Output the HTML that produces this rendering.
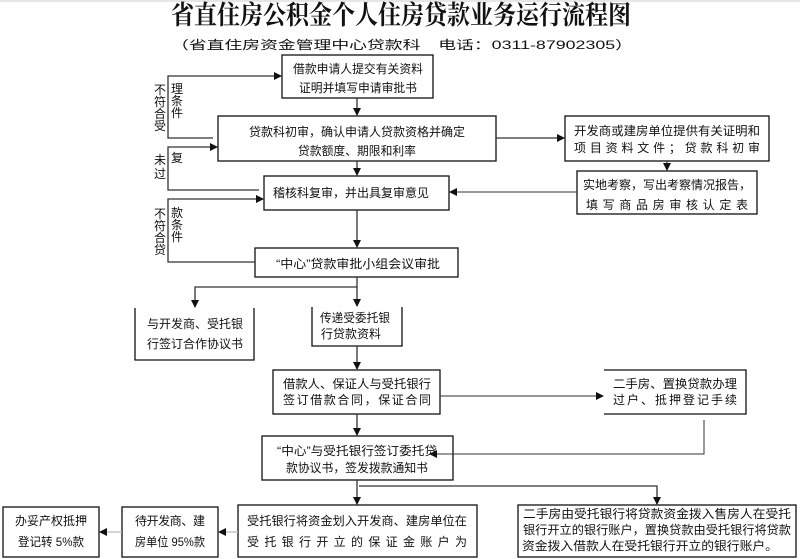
<!DOCTYPE html>
<html><head><meta charset="utf-8"><style>
html,body{margin:0;padding:0;background:#fff;}
svg{display:block;}
text{font-family:"Liberation Sans","Noto Sans CJK SC",sans-serif;fill:#111;font-size:12px;}
.t{font-family:"Liberation Serif","Noto Serif CJK SC",serif;font-weight:bold;font-size:26px;}
</style></head><body>
<svg width="800" height="559" viewBox="0 0 800 559" xmlns="http://www.w3.org/2000/svg">
<defs>
<marker id="a" markerWidth="8" markerHeight="8" refX="7" refY="4" orient="auto" markerUnits="userSpaceOnUse"><path d="M0,0 L8,4 L0,8 z" fill="#111"/></marker>
</defs>
<rect x="0" y="0" width="800" height="559" fill="#fff"/>
<line x1="0" y1="1" x2="800" y2="1" stroke="#ccc"/>
<text class="t" x="401" y="24" text-anchor="middle" textLength="460" lengthAdjust="spacingAndGlyphs">省直住房公积金个人住房贷款业务运行流程图</text>
<text x="402" y="49" text-anchor="middle" font-size="16" textLength="462" lengthAdjust="spacingAndGlyphs" fill="#333">（省直住房资金管理中心贷款科　电话：0311-87902305）</text>

<g fill="none" stroke="#111" stroke-width="1.3">
<rect x="282" y="55" width="151" height="43"/>
<rect x="218" y="116" width="278" height="45"/>
<rect x="264" y="176" width="185" height="34"/>
<rect x="255" y="248" width="203" height="29"/>
<rect x="565" y="116" width="204" height="45"/>
<rect x="577" y="171" width="180" height="43"/>
<path d="M135,308 V360 H254 V308"/>
<path d="M312,307 V346 H402 V307"/>
<rect x="273" y="370" width="167" height="44"/>
<path d="M604,370 H746 V414 H604"/>
<rect x="262" y="436" width="191" height="44"/>
<rect x="238" y="505" width="239" height="52"/>
<rect x="518" y="505" width="278" height="52"/>
<rect x="122" y="507" width="96" height="50"/>
<rect x="3" y="507" width="96" height="50"/>
</g>

<g fill="none" stroke="#333" stroke-width="1.3">
<line x1="357" y1="98" x2="357" y2="115" marker-end="url(#a)"/>
<line x1="357" y1="161" x2="357" y2="175" marker-end="url(#a)"/>
<line x1="357" y1="210" x2="357" y2="247" marker-end="url(#a)"/>
<path d="M357,277 V287 H195 V307" marker-end="url(#a)"/>
<line x1="357" y1="287" x2="357" y2="306" marker-end="url(#a)"/>
<line x1="357" y1="346" x2="357" y2="369" marker-end="url(#a)"/>
<line x1="357" y1="414" x2="357" y2="435" marker-end="url(#a)"/>
<line x1="440" y1="396" x2="603" y2="396" stroke-width="1" marker-end="url(#a)"/>
<path d="M704,420 V454 H430" stroke-width="1" marker-end="url(#a)"/>
<line x1="357" y1="480" x2="357" y2="504" marker-end="url(#a)"/>
<path d="M359,486 H657 V504" marker-end="url(#a)"/>
<line x1="238" y1="532" x2="219" y2="532" stroke="#bbb" marker-end="url(#a)"/>
<line x1="122" y1="532" x2="100" y2="532" stroke="#bbb" marker-end="url(#a)"/>
<path d="M213,138 H168 V76 H281" marker-end="url(#a)"/>
<path d="M259,190 H168 V147 H217" marker-end="url(#a)"/>
<path d="M255,262 H168 V199 H263" marker-end="url(#a)"/>
<line x1="496" y1="138" x2="564" y2="138" marker-end="url(#a)"/>
<line x1="667" y1="161" x2="667" y2="170" stroke-width="1" marker-end="url(#a)"/>
<line x1="577" y1="192" x2="450" y2="192" stroke-width="1" marker-end="url(#a)"/>
</g>

<g text-anchor="middle">
<text x="358" y="73" textLength="130" lengthAdjust="spacingAndGlyphs">借款申请人提交有关资料</text>
<text x="358" y="92" textLength="118" lengthAdjust="spacingAndGlyphs">证明并填写申请审批书</text>
<text x="357" y="136" textLength="216" lengthAdjust="spacingAndGlyphs">贷款科初审，确认申请人贷款资格并确定</text>
<text x="357" y="155" textLength="118" lengthAdjust="spacingAndGlyphs">贷款额度、期限和利率</text>
<text x="351" y="197" textLength="156" lengthAdjust="spacingAndGlyphs">稽核科复审，并出具复审意见</text>
<text x="358" y="268" textLength="164" lengthAdjust="spacingAndGlyphs">“中心”贷款审批小组会议审批</text>
<text x="667" y="135" textLength="186" lengthAdjust="spacingAndGlyphs">开发商或建房单位提供有关证明和</text>
<text x="667" y="152" textLength="186" lengthAdjust="spacing">项目资料文件；贷款科初审</text>
<text x="667" y="189" textLength="168" lengthAdjust="spacingAndGlyphs">实地考察，写出考察情况报告，</text>
<text x="667" y="209" textLength="162" lengthAdjust="spacing">填写商品房审核认定表</text>
<text x="195" y="328" textLength="96" lengthAdjust="spacingAndGlyphs">与开发商、受托银</text>
<text x="195" y="348" textLength="96" lengthAdjust="spacingAndGlyphs">行签订合作协议书</text>
<text x="355" y="322" textLength="70" lengthAdjust="spacingAndGlyphs">传递受委托银</text>
<text x="351" y="338" textLength="60" lengthAdjust="spacingAndGlyphs">行贷款资料</text>
<text x="357" y="388" textLength="148" lengthAdjust="spacingAndGlyphs">借款人、保证人与受托银行</text>
<text x="357" y="404" textLength="148" lengthAdjust="spacing">签订借款合同，保证合同</text>
<text x="675" y="388" textLength="124" lengthAdjust="spacingAndGlyphs">二手房、置换贷款办理</text>
<text x="675" y="404" textLength="124" lengthAdjust="spacing">过户、抵押登记手续</text>
<text x="357" y="455" textLength="160" lengthAdjust="spacingAndGlyphs">“中心”与受托银行签订委托贷</text>
<text x="357" y="472" textLength="142" lengthAdjust="spacingAndGlyphs">款协议书，签发拨款通知书</text>
<text x="357" y="525" textLength="220" lengthAdjust="spacingAndGlyphs">受托银行将资金划入开发商、建房单位在</text>
<text x="357" y="546" textLength="220" lengthAdjust="spacing">受托银行开立的保证金账户为</text>
<text x="657" y="518" textLength="268" lengthAdjust="spacingAndGlyphs">二手房由受托银行将贷款资金拨入售房人在受托</text>
<text x="657" y="534" textLength="268" lengthAdjust="spacingAndGlyphs">银行开立的银行账户，置换贷款由受托银行将贷款</text>
<text x="650" y="550" textLength="256" lengthAdjust="spacingAndGlyphs">资金拨入借款人在受托银行开立的银行账户。</text>
<text x="170" y="525" textLength="70" lengthAdjust="spacing">待开发商、建</text>
<text x="170" y="546" textLength="70" lengthAdjust="spacingAndGlyphs">房单位 95%款</text>
<text x="51" y="525" textLength="72" lengthAdjust="spacing">办妥产权抵押</text>
<text x="51" y="546" textLength="66" lengthAdjust="spacingAndGlyphs">登记转 5%款</text>
</g>

<g font-size="10" text-anchor="middle" fill="#333">
<text x="160" y="94">不</text><text x="160" y="106">符</text><text x="160" y="118">合</text><text x="160" y="130">受</text>
<text x="177" y="93">理</text><text x="177" y="105">条</text><text x="177" y="117">件</text>
<text x="160" y="164">未</text><text x="160" y="178">过</text>
<text x="177" y="162">复</text>
<text x="160" y="218">不</text><text x="160" y="230">符</text><text x="160" y="242">合</text><text x="160" y="254">贷</text>
<text x="177" y="217">款</text><text x="177" y="229">条</text><text x="177" y="241">件</text>
</g>
</svg>
</body></html>
